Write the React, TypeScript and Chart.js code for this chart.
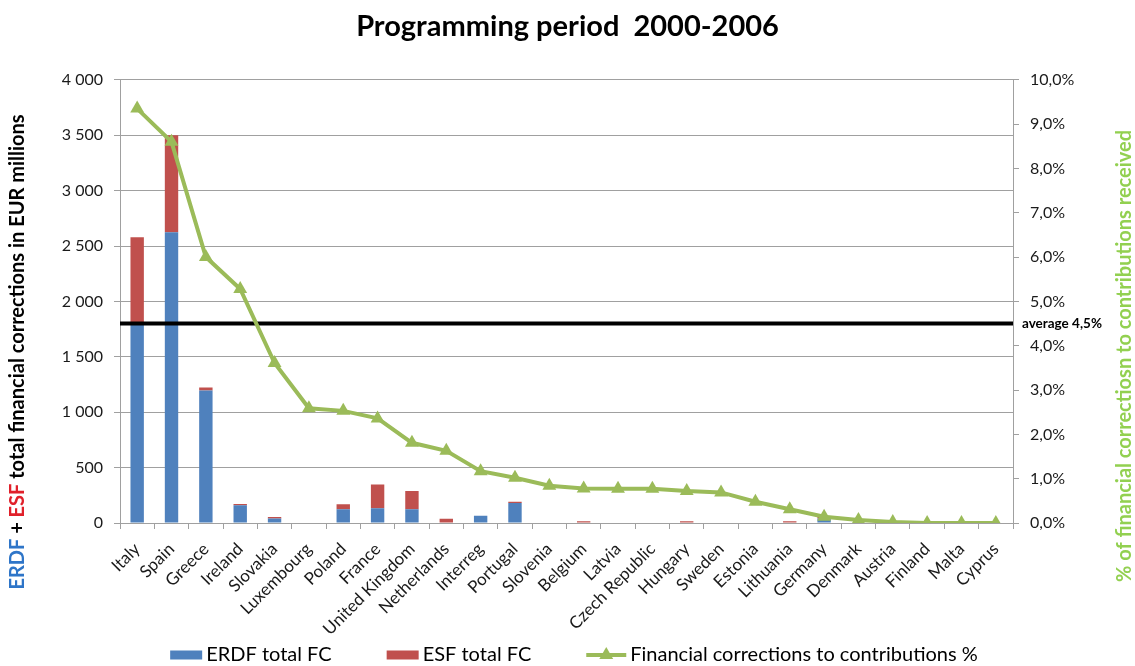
import React, { useEffect, useRef } from 'react';
import { Chart, registerables } from 'chart.js';

Chart.register(...registerables);

const categories = [
  'Italy', 'Spain', 'Greece', 'Ireland', 'Slovakia', 'Luxembourg', 'Poland', 'France',
  'United Kingdom', 'Netherlands', 'Interreg', 'Portugal', 'Slovenia', 'Belgium', 'Latvia',
  'Czech Republic', 'Hungary', 'Sweden', 'Estonia', 'Lithuania', 'Germany', 'Denmark',
  'Austria', 'Finland', 'Malta', 'Cyprus',
];

const erdfValues = [1790, 2625, 1195, 160, 40, 0, 125, 133, 123, 0, 65, 180, 0, 0, 0, 0, 0, 0, 0, 0, 40, 0, 0, 0, 0, 0];
const esfValues = [790, 875, 27, 12, 14, 0, 45, 215, 166, 38, 0, 12, 0, 15, 0, 0, 15, 0, 0, 15, 15, 0, 0, 0, 0, 0];
const pctValues = [9.35, 8.6, 6.0, 5.28, 3.61, 2.59, 2.53, 2.36, 1.81, 1.63, 1.17, 1.02, 0.84, 0.78, 0.77, 0.77, 0.72, 0.69, 0.48, 0.31, 0.14, 0.07, 0.02, 0.0, 0.0, 0.0];

const seriesLabels = ['ERDF total FC', 'ESF total FC', 'Financial corrections to contributions %'];
const averagePct = 4.5;
const averageLabel = 'average 4,5%';
const titleText = 'Programming period  2000-2006';
const leftTitleParts: [string, string][] = [
  ['ERDF', '#2E75C8'],
  [' + ', '#000000'],
  ['ESF', '#E0202A'],
  [' total financial corrections in EUR millions', '#000000'],
];
const rightTitle = '% of financial correctiosn to contributions received';

const FONT = 'Lato, "Open Sans", sans-serif';
const BLUE = '#4F81BD';
const RED = '#C0504D';
const GREEN = '#9BBB59';
const GRID = '#a0a0a0';

const fmtThousands = (v: number) => String(v).replace(/\B(?=(\d{3})+(?!\d))/g, ' ');
const fmtPct = (v: number) => v.toFixed(1).replace('.', ',') + '%';

const averagePlugin = {
  id: 'averageLine',
  beforeDatasetDraw(chart: any, args: any) {
    if (args.index !== 2) return;
    const { ctx, chartArea, scales } = chart;
    const y = scales.y1.getPixelForValue(averagePct);
    ctx.save();
    ctx.strokeStyle = '#000';
    ctx.lineWidth = 4;
    ctx.beginPath();
    ctx.moveTo(chartArea.left, y);
    ctx.lineTo(chartArea.right, y);
    ctx.stroke();
    ctx.font = `bold 13.5px ${FONT}`;
    ctx.fillStyle = '#000';
    ctx.textAlign = 'left';
    ctx.textBaseline = 'middle';
    ctx.fillText(averageLabel, chartArea.right + 9, y);
    ctx.restore();
  },
};

const axisTitlesPlugin = {
  id: 'axisTitles',
  afterDraw(chart: any) {
    const { ctx } = chart;
    ctx.save();
    ctx.font = `bold 20px ${FONT}`;
    ctx.textBaseline = 'middle';
    ctx.textAlign = 'left';
    // left title
    const total = leftTitleParts.reduce((s, p) => s + ctx.measureText(p[0]).width, 0);
    ctx.save();
    ctx.translate(18, 352);
    ctx.rotate(-Math.PI / 2);
    let x = -total / 2;
    for (const [t, c] of leftTitleParts) {
      ctx.fillStyle = c;
      ctx.fillText(t, x, 0);
      x += ctx.measureText(t).width;
    }
    ctx.restore();
    // right title
    ctx.save();
    ctx.translate(1125, 356);
    ctx.rotate(-Math.PI / 2);
    ctx.textAlign = 'center';
    ctx.fillStyle = '#92D050';
    ctx.fillText(rightTitle, 0, 0);
    ctx.restore();
    ctx.restore();
  },
};

const legendPlugin = {
  id: 'customLegend',
  afterDraw(chart: any) {
    const { ctx } = chart;
    const datasets = chart.data.datasets;
    ctx.save();
    ctx.font = `20px ${FONT}`;
    ctx.textBaseline = 'middle';
    ctx.textAlign = 'left';
    const boxW = 32;
    const gapText = 4;
    const gapItem = 55;
    const widths = datasets.map((d: any) => (d.type === 'line' ? 40 : boxW) + gapText + ctx.measureText(d.label).width);
    const total = widths.reduce((a: number, b: number) => a + b, 0) + gapItem * (datasets.length - 1);
    let x = 574 - total / 2;
    const y = 655;
    datasets.forEach((d: any, i: number) => {
      let w = boxW;
      if (d.type === 'line') {
        w = 40;
        ctx.strokeStyle = d.borderColor;
        ctx.lineWidth = 4;
        ctx.beginPath();
        ctx.moveTo(x, y);
        ctx.lineTo(x + w, y);
        ctx.stroke();
        const r = 8;
        const cx = x + w / 2;
        ctx.fillStyle = d.borderColor;
        ctx.beginPath();
        ctx.moveTo(cx, y - r);
        ctx.lineTo(cx + r * Math.sin((2 * Math.PI) / 3), y - r * Math.cos((2 * Math.PI) / 3));
        ctx.lineTo(cx + r * Math.sin((4 * Math.PI) / 3), y - r * Math.cos((4 * Math.PI) / 3));
        ctx.closePath();
        ctx.fill();
      } else {
        ctx.fillStyle = d.backgroundColor;
        ctx.fillRect(x, y - 4.5, w, 9);
      }
      ctx.fillStyle = '#000';
      ctx.fillText(d.label, x + w + gapText, y);
      x += widths[i] + gapItem;
    });
    ctx.restore();
  },
};

export default function App() {
  const ref = useRef<HTMLCanvasElement | null>(null);

  useEffect(() => {
    document.body.style.margin = '0';
    if (!ref.current) return;
    const tickFont = { family: FONT, size: 16 };
    const chart = new Chart(ref.current, {
      type: 'bar',
      data: {
        labels: categories,
        datasets: [
          {
            type: 'bar',
            label: seriesLabels[0],
            data: erdfValues,
            backgroundColor: BLUE,
            yAxisID: 'y',
            order: 1,
            barPercentage: 0.39,
            categoryPercentage: 1,
          },
          {
            type: 'bar',
            label: seriesLabels[1],
            data: esfValues,
            backgroundColor: RED,
            yAxisID: 'y',
            order: 1,
            barPercentage: 0.39,
            categoryPercentage: 1,
          },
          {
            type: 'line',
            label: seriesLabels[2],
            data: pctValues,
            borderColor: GREEN,
            backgroundColor: GREEN,
            borderWidth: 4,
            pointStyle: 'triangle',
            pointRadius: 8,
            pointBorderWidth: 0,
            pointBackgroundColor: GREEN,
            tension: 0,
            yAxisID: 'y1',
            order: 0,
          },
        ] as any,
      },
      options: {
        responsive: false,
        animation: false,
        layout: { padding: { left: 0, right: 0, top: 0, bottom: 4 } },
        plugins: {
          legend: { display: false },
          tooltip: { enabled: false },
          title: {
            display: true,
            text: titleText,
            color: '#000',
            font: { family: FONT, size: 29, weight: 'bold' },
            padding: { top: 9, bottom: 36 },
          },
        },
        scales: {
          x: {
            stacked: true,
            grid: { display: true, drawOnChartArea: false, drawTicks: true, tickLength: 6, color: GRID, offset: true },
            border: { color: GRID },
            ticks: { autoSkip: false, maxRotation: 45, minRotation: 45, padding: 10, color: '#1a1a1a', font: { family: FONT, size: 17 } },
            afterFit: (s: any) => { s.height = 139; },
          },
          y: {
            stacked: true,
            min: 0,
            max: 4000,
            ticks: { stepSize: 500, padding: 11, color: '#1a1a1a', font: tickFont, callback: (v: any) => fmtThousands(Number(v)) },
            grid: { color: GRID, tickLength: 6 },
            border: { color: GRID },
            afterFit: (s: any) => { s.width = 120; },
          },
          y1: {
            position: 'right',
            min: 0,
            max: 10,
            ticks: { stepSize: 1, padding: 11, color: '#1a1a1a', font: tickFont, callback: (v: any) => fmtPct(Number(v)) },
            grid: { drawOnChartArea: false, tickLength: 6, color: GRID },
            border: { color: GRID },
            afterFit: (s: any) => { s.width = 122; },
          },
        },
      } as any,
      plugins: [averagePlugin, axisTitlesPlugin, legendPlugin],
    });
    return () => chart.destroy();
  }, []);

  return (
    <div style={{ width: 1135, height: 666, background: '#fff' }}>
      <canvas ref={ref} width={1135} height={666} style={{ display: 'block' }} />
    </div>
  );
}
